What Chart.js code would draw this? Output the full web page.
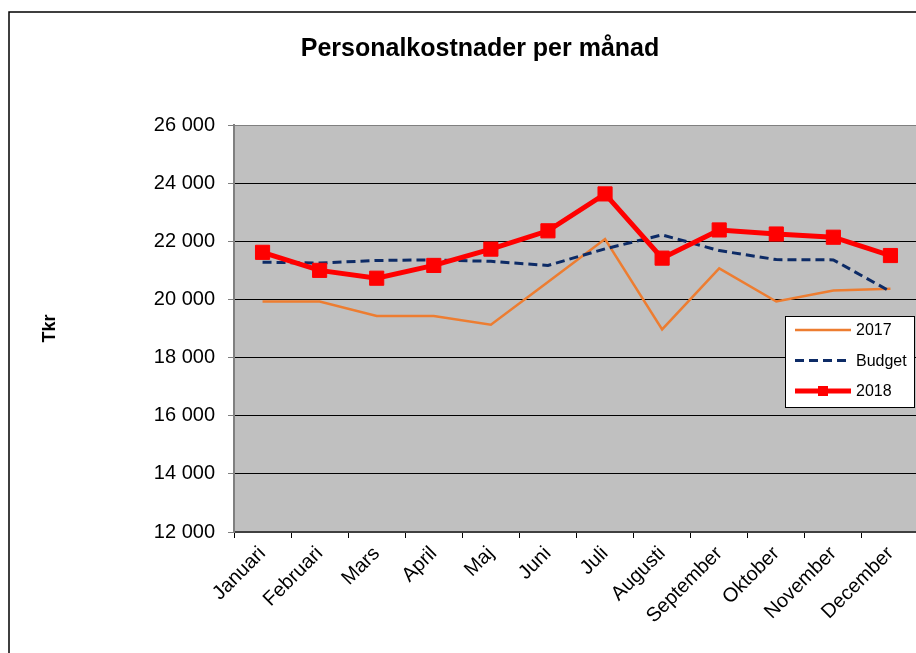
<!DOCTYPE html>
<html>
<head>
<meta charset="utf-8">
<script src="https://cdn.jsdelivr.net/npm/chart.js@4.4.1/dist/chart.umd.min.js"></script>
<style>
  html, body { margin: 0; padding: 0; background: #fff; overflow: hidden; }
  #chart { display: block; }
</style>
</head>
<body>
<canvas id="chart" width="960" height="653"></canvas>
<script>
const months = ["Januari", "Februari", "Mars", "April", "Maj", "Juni", "Juli",
  "Augusti", "September", "Oktober", "November", "December"];
const cost2017 = [19930, 19930, 19430, 19430, 19130, 20600, 22080, 18970, 21070, 19930, 20310, 20370];
const budget = [21280, 21250, 21340, 21360, 21310, 21170, 21740, 22220, 21680, 21370, 21360, 20270];
const cost2018 = [21620, 21000, 20730, 21170, 21730, 22360, 23630, 21420, 22390, 22250, 22140, 21510];
const yTickLabels = ["12 000", "14 000", "16 000", "18 000", "20 000", "22 000", "24 000", "26 000"];

const FONT = '"Liberation Sans", Arial, sans-serif';
Chart.defaults.font.family = FONT;
Chart.defaults.color = "#000";

// grey plot area + frame round the whole chart + title
const frame = {
  id: "frame",
  beforeDraw(chart) {
    const { ctx, chartArea: a } = chart;
    ctx.save();
    ctx.fillStyle = "#c0c0c0";
    ctx.fillRect(a.left, a.top, a.right - a.left, a.bottom - a.top);

    ctx.strokeStyle = "#000";
    ctx.lineWidth = 1.5;
    ctx.beginPath();
    ctx.moveTo(9, chart.height);
    ctx.lineTo(9, 12);
    ctx.lineTo(chart.width, 12);
    ctx.stroke();

    ctx.fillStyle = "#000";
    ctx.font = "bold 25px " + FONT;
    ctx.textAlign = "center";
    ctx.textBaseline = "middle";
    ctx.fillText("Personalkostnader per månad", 480, 49);
    ctx.restore();
  }
};

// boxed legend inside the plot, like the excel one
const boxLegend = {
  id: "boxLegend",
  afterDraw(chart) {
    const ctx = chart.ctx;
    const x = 785, y = 316, w = 129, h = 91;
    ctx.save();
    ctx.fillStyle = "#fff";
    ctx.fillRect(x, y, w, h);
    ctx.strokeStyle = "#000";
    ctx.lineWidth = 1;
    ctx.strokeRect(x + 0.5, y + 0.5, w, h);

    chart.data.datasets.forEach((ds, i) => {
      const cy = y + 14 + i * 30.5;
      ctx.beginPath();
      ctx.setLineDash(ds.borderDash || []);
      ctx.strokeStyle = ds.borderColor;
      ctx.lineWidth = ds.borderWidth;
      ctx.moveTo(795, cy);
      ctx.lineTo(851, cy);
      ctx.stroke();
      ctx.setLineDash([]);
      if (ds.pointRadius > 0) {
        ctx.fillStyle = ds.pointBackgroundColor;
        ctx.fillRect(818, cy - 5, 10, 10);
      }
      ctx.fillStyle = "#000";
      ctx.font = "16px " + FONT;
      ctx.textAlign = "left";
      ctx.textBaseline = "middle";
      ctx.fillText(ds.label, 856, cy + 1);
    });
    ctx.restore();
  }
};

new Chart(document.getElementById("chart"), {
  type: "line",
  data: {
    labels: months,
    datasets: [
      {
        label: "2017",
        data: cost2017,
        borderColor: "#ed7d31",
        borderWidth: 2.5,
        pointRadius: 0,
        tension: 0,
        order: 2
      },
      {
        label: "Budget",
        data: budget,
        borderColor: "#0d2b66",
        borderWidth: 3,
        borderDash: [9, 5],
        pointRadius: 0,
        tension: 0,
        order: 1
      },
      {
        label: "2018",
        data: cost2018,
        borderColor: "#ff0000",
        borderWidth: 5,
        pointStyle: "rect",
        pointRadius: 10,
        pointBackgroundColor: "#ff0000",
        pointBorderColor: "#ff0000",
        pointBorderWidth: 1,
        tension: 0,
        order: 0
      }
    ]
  },
  options: {
    responsive: false,
    animation: false,
    events: [],
    layout: { padding: { top: 125, left: 0, right: 41, bottom: 0 } },
    plugins: {
      legend: { display: false },
      title: { display: false },
      tooltip: { enabled: false }
    },
    scales: {
      x: {
        offset: true,
        grid: {
          display: true,
          offset: true,
          drawOnChartArea: false,
          drawTicks: true,
          tickLength: 6,
          color: "#000"
        },
        border: { display: true, color: "#404040", width: 2 },
        ticks: {
          autoSkip: false,
          minRotation: 45,
          maxRotation: 45,
          padding: 4,
          color: "#000",
          font: { size: 20 }
        },
        afterFit: s => { s.height = 121; }
      },
      y: {
        min: 12000,
        max: 26000,
        ticks: {
          stepSize: 2000,
          padding: 13,
          color: "#000",
          font: { size: 20 },
          callback: (v, i) => yTickLabels[i]
        },
        grid: {
          color: c => (c.tick && c.tick.value === 26000 ? "#808080" : "#000"),
          lineWidth: 1,
          drawTicks: true,
          tickLength: 6,
          tickColor: "#808080"
        },
        border: { display: true, color: "#808080", width: 2 },
        title: {
          display: true,
          text: "Tkr",
          color: "#000",
          font: { size: 18, weight: "bold" },
          padding: { top: 39, bottom: 0 }
        },
        afterFit: s => { s.width = 234; }
      }
    }
  },
  plugins: [frame, boxLegend]
});
</script>
</body>
</html>
